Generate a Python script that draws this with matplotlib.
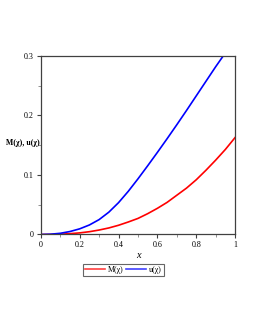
import matplotlib
matplotlib.use("Agg")
import matplotlib.pyplot as plt
from matplotlib.ticker import MultipleLocator

# data
x_u = [0, 0.05, 0.1, 0.15, 0.2, 0.25, 0.3, 0.35, 0.4, 0.45, 0.5, 0.55, 0.6,
       0.65, 0.7, 0.75, 0.8, 0.85, 0.9, 0.945]
u_vals = [0, 0.0005, 0.002, 0.005, 0.0095, 0.016, 0.025, 0.0375, 0.0535,
          0.0725, 0.0935, 0.1155, 0.138, 0.161, 0.1845, 0.2085, 0.233,
          0.2575, 0.282, 0.303]
x_m = [0, 0.05, 0.1, 0.15, 0.2, 0.25, 0.3, 0.35, 0.4, 0.45, 0.5, 0.55, 0.6,
       0.65, 0.7, 0.75, 0.8, 0.85, 0.9, 0.95, 1.0]
m_vals = [0, 0.0001, 0.0005, 0.0014, 0.0027, 0.0047, 0.0075, 0.011, 0.0155,
          0.021, 0.027, 0.035, 0.044, 0.054, 0.066, 0.078, 0.092, 0.108,
          0.125, 0.143, 0.163]
x_ticks = [0, 0.2, 0.4, 0.6, 0.8, 1]
x_ticklabels = ["0", "0.2", "0.4", "0.6", "0.8", "1"]
y_ticks = [0, 0.1, 0.2, 0.3]
y_ticklabels = ["0", "0.1", "0.2", "0.3"]

plt.rcParams['font.family'] = ['Liberation Serif', 'DejaVu Serif']

fig = plt.figure(figsize=(2.55, 3.30), dpi=100)
ax = fig.add_axes([0.160, 0.2894, 0.762, 0.5409])

ax.plot(x_m, m_vals, color='#ff0000', lw=1.2, label='M(χ)')
ax.plot(x_u, u_vals, color='#0000ff', lw=1.2, label='u(χ)')

ax.set_xlim(0, 1)
ax.set_ylim(0, 0.3)
ax.set_xticks(x_ticks)
ax.set_xticklabels(x_ticklabels)
ax.set_yticks(y_ticks)
ax.set_yticklabels(y_ticklabels)
ax.xaxis.set_minor_locator(MultipleLocator(0.1))
ax.yaxis.set_minor_locator(MultipleLocator(0.05))
ax.tick_params(which='major', direction='out', length=3, width=0.8,
               labelsize=5.8, pad=2, colors='#404040', labelcolor='black')
ax.tick_params(which='minor', direction='out', length=2, width=0.6,
               colors='#808080')
for s in ax.spines.values():
    s.set_color('#404040')
    s.set_linewidth(0.9)

ax.set_xlabel('x', fontsize=7.5, style='italic', labelpad=1)
ax.text(-0.003, 0.154, 'M(χ), u(χ)', transform=ax.get_yaxis_transform(),
        ha='right', va='center', fontsize=5.6, fontweight='bold')

leg = ax.legend(loc='upper center', bbox_to_anchor=(0.424, -0.165),
                bbox_transform=ax.transAxes, ncol=2, fontsize=5.8,
                frameon=True, fancybox=False, borderpad=0.25,
                handlelength=2.5, handletextpad=0.3, columnspacing=0.4,
                borderaxespad=0)
leg.get_frame().set_edgecolor('#404040')
leg.get_frame().set_linewidth(0.8)
for h in leg.get_lines():
    h.set_alpha(0.75)

fig.savefig('out.png', dpi=100)
